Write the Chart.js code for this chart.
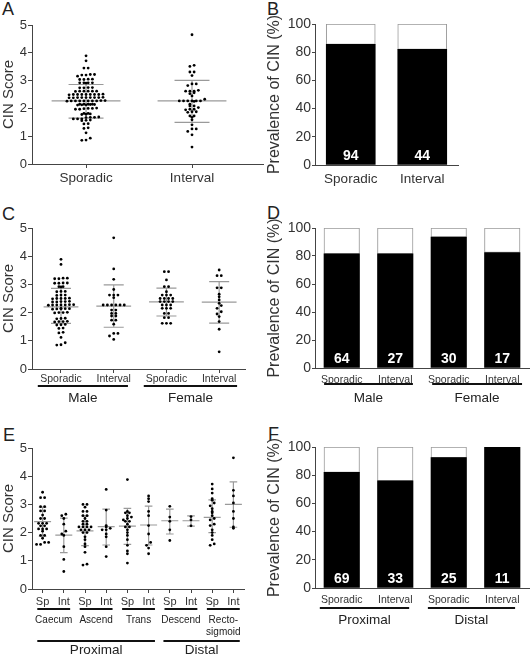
<!DOCTYPE html>
<html>
<head>
<meta charset="utf-8">
<script src="https://cdn.jsdelivr.net/npm/chart.js@4.4.1/dist/chart.umd.min.js"></script>
<style>
  html, body { margin: 0; padding: 0; background: #fff; }
  body { width: 531px; height: 655px; position: relative; overflow: hidden; font-family: "Liberation Sans", Arial, sans-serif; }
  canvas { position: absolute; }
  .letter { position: absolute; font-size: 18px; line-height: 18px; color: #222; }
</style>
</head>
<body>
<div class="letter" style="left:2px;top:0px">A</div>
<div class="letter" style="left:267px;top:0px">B</div>
<div class="letter" style="left:2px;top:205px">C</div>
<div class="letter" style="left:267px;top:204px">D</div>
<div class="letter" style="left:3px;top:426px">E</div>
<div class="letter" style="left:268px;top:425px">F</div>

<canvas id="chartA" style="left:0px;top:0px" width="265" height="200"></canvas>
<canvas id="chartB" style="left:265px;top:0px" width="266" height="200"></canvas>
<canvas id="chartC" style="left:0px;top:200px" width="265" height="220"></canvas>
<canvas id="chartD" style="left:265px;top:200px" width="266" height="220"></canvas>
<canvas id="chartE" style="left:0px;top:420px" width="265" height="235"></canvas>
<canvas id="chartF" style="left:265px;top:420px" width="266" height="235"></canvas>

<script>
/* data: CIN scores */

const typeLabels = ["Sporadic", "Interval"];
const sexLabels = ["Sporadic", "Interval", "Sporadic", "Interval"];
const sexGroups = ["Male", "Female"];
const siteLabels = ["Sp", "Int", "Sp", "Int", "Sp", "Int", "Sp", "Int", "Sp", "Int"];
const siteNames = ["Caecum", "Ascend", "Trans", "Descend", ["Recto-", "sigmoid"]];
const regionNames = ["Proximal", "Distal"];

const maleSporadic = [3.89, 3.71, 3.22, 3.22, 3.2, 3.2, 3.05, 3.05, 3.04, 3.04, 2.92, 2.92, 2.91,
    2.75, 2.75, 2.74, 2.62, 2.62, 2.61, 2.51, 2.5, 2.5, 2.5, 2.49, 2.39, 2.39, 2.38, 2.38, 2.4,
    2.27, 2.27, 2.27, 2.27, 2.28, 2.28, 2.26, 2.14, 2.14, 2.13, 2.13, 2.12, 2.15, 2.0, 2.0, 2.01, 1.99,
    1.8, 1.79, 1.78, 1.68, 1.68, 1.67, 1.69, 1.57, 1.56, 1.58, 1.45, 1.44, 1.3, 1.28, 1.12, 0.93, 0.86, 0.85];
const maleInterval = [4.65, 3.55, 3.18, 2.82, 2.62, 2.62, 2.62, 2.53, 2.27, 2.27, 2.27, 2.27, 2.27, 2.27,
    2.09, 2.09, 1.97, 1.97, 1.88, 1.88, 1.73, 1.73, 1.59, 1.26, 1.26, 1.17, 1.05];
const femaleSporadic = [3.45, 3.45, 3.16, 2.92, 2.92, 2.74, 2.62, 2.62, 2.62, 2.5, 2.5, 2.5, 2.5,
    2.39, 2.39, 2.39, 2.39, 2.27, 2.27, 2.27, 2.15, 2.15, 2.15, 1.97, 1.97, 1.82, 1.82, 1.62, 1.62, 1.62];
const femaleInterval = [3.51, 3.31, 3.31, 2.88, 2.88, 2.65, 2.56, 2.45, 2.33, 2.25, 2.15, 2.03, 1.95,
    1.86, 1.68, 1.41, 0.61];

const caecumSp = [3.43, 3.24, 3.24, 2.92, 2.92, 2.77, 2.77, 2.62, 2.5, 2.5, 2.33, 2.33, 2.33, 2.24, 2.24,
    2.13, 2.13, 2.13, 2.05, 1.9, 1.9, 1.8, 1.65, 1.65, 1.58, 1.58];
const caecumInt = [2.65, 2.6, 2.5, 2.3, 2.05, 1.95, 1.9, 1.5, 1.05, 0.62];
const ascendSp = [3.0, 3.0, 2.9, 2.75, 2.75, 2.6, 2.6, 2.5, 2.4, 2.4, 2.3, 2.3, 2.2, 2.2, 2.2, 2.2,
    2.1, 2.1, 2.1, 2.0, 2.0, 1.85, 1.75, 1.6, 1.5, 1.3, 0.88, 0.85];
const ascendInt = [3.53, 2.8, 2.25, 2.2, 2.15, 2.1, 2.1, 1.95, 1.85, 1.5, 1.15];
const transSp = [3.88, 2.75, 2.7, 2.7, 2.6, 2.55, 2.5, 2.45, 2.4, 2.4, 2.3, 2.2, 2.2, 2.1, 2.0, 1.9,
    1.75, 1.55, 1.35, 1.25, 0.92];
const transInt = [3.3, 3.2, 3.1, 2.75, 2.6, 2.25, 1.95, 1.65, 1.55, 1.45, 1.25];
const descendSp = [2.93, 2.55, 2.4, 2.1, 1.72];
const descendInt = [2.57, 2.45, 2.24];
const rectoSp = [3.72, 3.55, 3.4, 3.2, 3.15, 3.05, 2.95, 2.85, 2.75, 2.7, 2.6, 2.5, 2.45, 2.3, 2.25,
    2.1, 2.0, 1.9, 1.75, 1.6, 1.55];
const rectoInt = [4.65, 3.5, 3.3, 3.05, 2.75, 2.5, 2.2, 2.15];

/* mean and +/- SD lines */
const typeMean = [2.27, 2.27];
const typeHigh = [2.86, 3.01];
const typeLow = [1.65, 1.5];

const sexMean = [2.2, 2.23, 2.38, 2.37];
const sexHigh = [2.86, 2.98, 2.87, 3.1];
const sexLow = [1.62, 1.48, 1.88, 1.63];

const siteMean = [2.39, 1.91, 2.06, 2.21, 2.23, 2.27, 2.42, 2.42, 2.54, 3.0];
const siteHigh = [2.9, 2.51, 2.59, 2.83, 2.86, 2.94, 2.83, 2.59, 3.16, 3.8];
const siteLow = [1.87, 1.29, 1.54, 1.56, 1.58, 1.56, 1.95, 2.23, 2.0, 2.19];

/* data: prevalence of CIN (%) and counts */
const typePrevalence = [85.5, 82];
const typeCount = [94, 44];
const sexPrevalence = [81.5, 81.5, 93.5, 82.5];
const sexCount = [64, 27, 30, 17];
const regionLabels = ["Sporadic", "Interval", "Sporadic", "Interval"];
const regionPrevalence = [82, 76, 92.5, 100];
const regionCount = [69, 33, 25, 11];


const FONT = '"Liberation Sans", Arial, sans-serif';
const AXIS = "#444";
Chart.defaults.font.family = FONT;
Chart.defaults.color = "#333";

/* beeswarm layout: values in the same row are spread sideways */
function swarm(values, index, bin, gap) {
    const rows = {};
    [...values].sort((a, b) => a - b).forEach(v => {
        const key = Math.round(v / bin);
        (rows[key] = rows[key] || []).push(v);
    });
    const points = [];
    Object.values(rows).forEach(row => {
        row.forEach((v, k) => points.push({ x: index + (k - (row.length - 1) / 2) * gap, y: v }));
    });
    return points;
}

function errorBars(mean, high, low, meanW, sdW) {
    return {
        id: "errorBars",
        beforeDatasetsDraw(chart) {
            const { ctx, scales: { x, y } } = chart;
            ctx.save();
            ctx.strokeStyle = "#9a9a9a";
            ctx.lineWidth = 1.2;
            ctx.beginPath();
            mean.forEach((m, i) => {
                ctx.moveTo(x.getPixelForValue(i - meanW), y.getPixelForValue(m));
                ctx.lineTo(x.getPixelForValue(i + meanW), y.getPixelForValue(m));
                [high[i], low[i]].forEach(v => {
                    ctx.moveTo(x.getPixelForValue(i - sdW), y.getPixelForValue(v));
                    ctx.lineTo(x.getPixelForValue(i + sdW), y.getPixelForValue(v));
                });
                ctx.moveTo(x.getPixelForValue(i), y.getPixelForValue(high[i]));
                ctx.lineTo(x.getPixelForValue(i), y.getPixelForValue(low[i]));
            });
            ctx.stroke();
            ctx.restore();
        }
    };
}

function brackets(items) {
    return {
        id: "brackets",
        afterDraw(chart) {
            const { ctx, scales: { x } } = chart;
            ctx.save();
            ctx.fillStyle = "#222";
            ctx.strokeStyle = "#111";
            ctx.textAlign = "center";
            ctx.textBaseline = "middle";
            items.forEach(it => {
                const x0 = x.getPixelForValue(it.from);
                const x1 = x.getPixelForValue(it.to);
                ctx.lineWidth = 2;
                ctx.beginPath();
                ctx.moveTo(x0, it.lineY);
                ctx.lineTo(x1, it.lineY);
                ctx.stroke();
                ctx.font = it.size + "px " + FONT;
                [].concat(it.label).forEach((t, k) => {
                    ctx.fillText(t, (x0 + x1) / 2, it.textY + k * it.size * 1.2);
                });
            });
            ctx.restore();
        }
    };
}

function barCounts(counts) {
    return {
        id: "barCounts",
        afterDatasetsDraw(chart) {
            const { ctx, scales: { y } } = chart;
            const base = y.getPixelForValue(0);
            ctx.save();
            ctx.fillStyle = "#fff";
            ctx.font = "bold 14px " + FONT;
            ctx.textAlign = "center";
            ctx.textBaseline = "middle";
            chart.getDatasetMeta(0).data.forEach((bar, i) => {
                ctx.fillText(counts[i], bar.x, base - 9);
            });
            ctx.restore();
        }
    };
}

function axisGrid(tickLength) {
    return { display: true, drawOnChartArea: false, drawTicks: true, tickLength: tickLength, color: AXIS };
}

function dotPlot(id, box, cats, series, stats, opt) {
    const canvas = document.getElementById(id);
    const points = [];
    series.forEach((vals, i) => points.push(...swarm(vals, i, opt.bin, opt.gap)));

    return new Chart(canvas, {
        type: "scatter",
        data: {
            datasets: [{
                data: points,
                pointRadius: 1.4,
                pointHoverRadius: 1.4,
                pointBackgroundColor: "#000",
                pointBorderWidth: 0
            }]
        },
        options: {
            responsive: false,
            animation: false,
            events: [],
            layout: { padding: { top: box.top, right: canvas.width - box.right, left: 0, bottom: 0 } },
            plugins: { legend: { display: false }, tooltip: { enabled: false } },
            scales: {
                x: {
                    type: "linear",
                    min: opt.xmin,
                    max: opt.xmax,
                    afterBuildTicks: scale => { scale.ticks = cats.map((c, i) => ({ value: i })); },
                    afterFit: scale => { scale.height = canvas.height - box.bottom; },
                    ticks: {
                        callback: value => cats[value],
                        autoSkip: false,
                        maxRotation: 0,
                        padding: opt.xPad,
                        font: { size: opt.xSize }
                    },
                    grid: axisGrid(4),
                    border: { color: AXIS }
                },
                y: {
                    min: 0,
                    max: 5,
                    afterFit: scale => { scale.width = box.left; },
                    ticks: { stepSize: 1, padding: 1, font: { size: 13 } },
                    grid: axisGrid(4),
                    border: { color: AXIS },
                    title: { display: true, text: "CIN Score", font: { size: 15 }, padding: 0 }
                }
            }
        },
        plugins: [errorBars(stats[0], stats[1], stats[2], opt.meanW, opt.sdW), brackets(opt.brackets || [])]
    });
}

function barPlot(id, box, cats, prevalence, counts, opt) {
    const canvas = document.getElementById(id);

    return new Chart(canvas, {
        type: "bar",
        data: {
            labels: cats,
            datasets: [
                {
                    label: "CIN",
                    data: prevalence,
                    backgroundColor: "#000",
                    borderWidth: 0,
                    barThickness: opt.barWidth
                },
                {
                    label: "No CIN",
                    data: prevalence.map(p => 100 - p),
                    backgroundColor: "#fff",
                    borderColor: "#999",
                    borderWidth: 1,
                    borderSkipped: false,
                    barThickness: opt.barWidth
                }
            ]
        },
        options: {
            responsive: false,
            animation: false,
            events: [],
            layout: { padding: { top: box.top, right: canvas.width - box.right, left: 0, bottom: 0 } },
            plugins: { legend: { display: false }, tooltip: { enabled: false } },
            scales: {
                x: {
                    stacked: true,
                    afterFit: scale => { scale.height = canvas.height - box.bottom; },
                    ticks: { maxRotation: 0, autoSkip: false, padding: opt.xPad, font: { size: opt.xSize } },
                    grid: { display: false },
                    border: { display: true, color: AXIS }
                },
                y: {
                    stacked: true,
                    min: 0,
                    max: 100,
                    afterFit: scale => { scale.width = box.left; },
                    ticks: { stepSize: 20, padding: 1, font: { size: 14 } },
                    grid: axisGrid(3),
                    border: { color: AXIS },
                    title: { display: true, text: "Prevalence of CIN (%)", font: { size: 16 }, padding: 0 }
                }
            }
        },
        plugins: [barCounts(counts), brackets(opt.brackets || [])]
    });
}

/* A: sporadic vs interval */
dotPlot("chartA", { left: 32, top: 25, right: 263, bottom: 164 }, typeLabels,
    [maleSporadic.concat(femaleSporadic), maleInterval.concat(femaleInterval)],
    [typeMean, typeHigh, typeLow],
    { xmin: -0.51, xmax: 1.67, bin: 0.11, gap: 0.04, meanW: 0.325, sdW: 0.165, xSize: 13.5, xPad: 2 });

/* B */
barPlot("chartB", { left: 50, top: 24, right: 193, bottom: 165 }, typeLabels, typePrevalence, typeCount,
    { barWidth: 49, xSize: 13.5, xPad: -2 });

/* C: by sex */
dotPlot("chartC", { left: 32, top: 28, right: 245, bottom: 169 }, sexLabels,
    [maleSporadic, maleInterval, femaleSporadic, femaleInterval],
    [sexMean, sexHigh, sexLow],
    {
        xmin: -0.55, xmax: 3.49, bin: 0.11, gap: 0.08, meanW: 0.33, sdW: 0.19, xSize: 10.5, xPad: 0,
        brackets: [
            { from: -0.44, to: 1.27, lineY: 186, textY: 198, size: 13.5, label: sexGroups[0] },
            { from: 1.57, to: 3.34, lineY: 186, textY: 198, size: 13.5, label: sexGroups[1] }
        ]
    });

/* D */
barPlot("chartD", { left: 50, top: 28, right: 264, bottom: 168 }, sexLabels, sexPrevalence, sexCount,
    {
        barWidth: 35.5, xSize: 10.5, xPad: -2,
        brackets: [
            { from: -0.33, to: 1.33, lineY: 184, textY: 198, size: 13.5, label: sexGroups[0] },
            { from: 1.69, to: 3.37, lineY: 184, textY: 198, size: 13.5, label: sexGroups[1] }
        ]
    });

/* E: by tumour site */
const siteBrackets = siteNames.map((name, k) => ({
    from: 2 * k - 0.25, to: 2 * k + 1.3, lineY: 189, textY: 200, size: 10, label: name
}));
dotPlot("chartE", { left: 32, top: 28, right: 244, bottom: 169 }, siteLabels,
    [caecumSp, caecumInt, ascendSp, ascendInt, transSp, transInt, descendSp, descendInt, rectoSp, rectoInt],
    [siteMean, siteHigh, siteLow],
    {
        xmin: -0.5, xmax: 9.5, bin: 0.1, gap: 0.19, meanW: 0.4, sdW: 0.18, xSize: 11, xPad: 2,
        brackets: siteBrackets.concat([
            { from: -0.25, to: 5.3, lineY: 221, textY: 230, size: 13.5, label: regionNames[0] },
            { from: 5.7, to: 9.3, lineY: 221, textY: 230, size: 13.5, label: regionNames[1] }
        ])
    });

/* F */
barPlot("chartF", { left: 50, top: 27, right: 264, bottom: 168 }, regionLabels, regionPrevalence, regionCount,
    {
        barWidth: 35.5, xSize: 10.5, xPad: -2,
        brackets: [
            { from: -0.41, to: 1.26, lineY: 188, textY: 200, size: 13.5, label: regionNames[0] },
            { from: 1.61, to: 3.24, lineY: 188, textY: 200, size: 13.5, label: regionNames[1] }
        ]
    });
</script>
</body>
</html>
